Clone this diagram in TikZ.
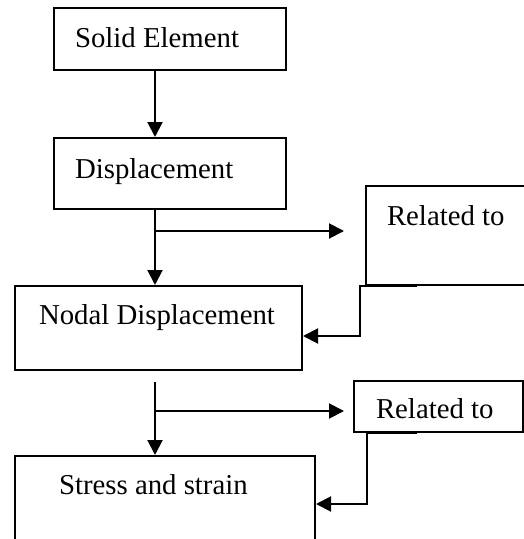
\documentclass[tikz,border=0pt]{standalone}
\usepackage{fontspec}
\setmainfont{Liberation Serif}
\usetikzlibrary{arrows.meta}

\begin{document}
\begin{tikzpicture}[x=1pt,y=-1pt,font=\fontsize{28.8}{34}\selectfont,
    box/.style={draw,line width=2pt,anchor=north west,inner ysep=0pt,align=flush left},
    arr/.style={line width=2pt,-{Triangle[length=15pt,width=15pt]}}]
    \clip (0,0) rectangle (524,539);
    \node[box,inner xsep=21pt,text width=190pt,text height=39pt,text depth=23pt] (solid) at (53,7) {Solid Element};
    \node[box,inner xsep=21pt,text width=190pt,text height=40pt,text depth=31pt] (disp) at (53,137) {Displacement};
    \node[box,inner xsep=21pt,text width=138pt,text height=39pt,text depth=60pt] (rel1) at (365,185) {Related to};
    \node[box,inner xsep=24pt,text width=239pt,text height=38pt,text depth=46pt] (nodal) at (14,285) {Nodal Displacement};
    \node[box,inner xsep=22pt,text width=125pt,text height=37pt,text depth=14pt] (rel2) at (353,380) {Related to};
    \node[box,inner xsep=44pt,text width=212pt,text height=38pt,text depth=67pt] (stress) at (14,455) {Stress and strain};
    \coordinate (fork1) at (155,231);
    \coordinate (fork2) at (155,411);
    \draw[arr] ([xshift=102pt]solid.south west) -- ([xshift=102pt]disp.north west);
    \draw[arr] ([xshift=102pt]disp.south west) -- ([xshift=141pt]nodal.north west);
    \draw[arr,shorten >=21pt] (fork1) -- (fork1 -| rel1.west);
    \draw[arr] ([xshift=52pt]rel1.south west) -- ([xshift=-5pt]rel1.south west) |- ([yshift=-8pt]nodal.east);
    \draw[arr] ([xshift=141pt,yshift=-11pt]nodal.south west) -- ([xshift=141pt]stress.north west);
    \draw[arr,shorten >=9pt] (fork2) -- (fork2 -| rel2.west);
    \draw[arr] ([xshift=64pt]rel2.south west) -- ([xshift=14pt]rel2.south west) |- ([yshift=-49pt]stress.north east);
\end{tikzpicture}
\end{document}
